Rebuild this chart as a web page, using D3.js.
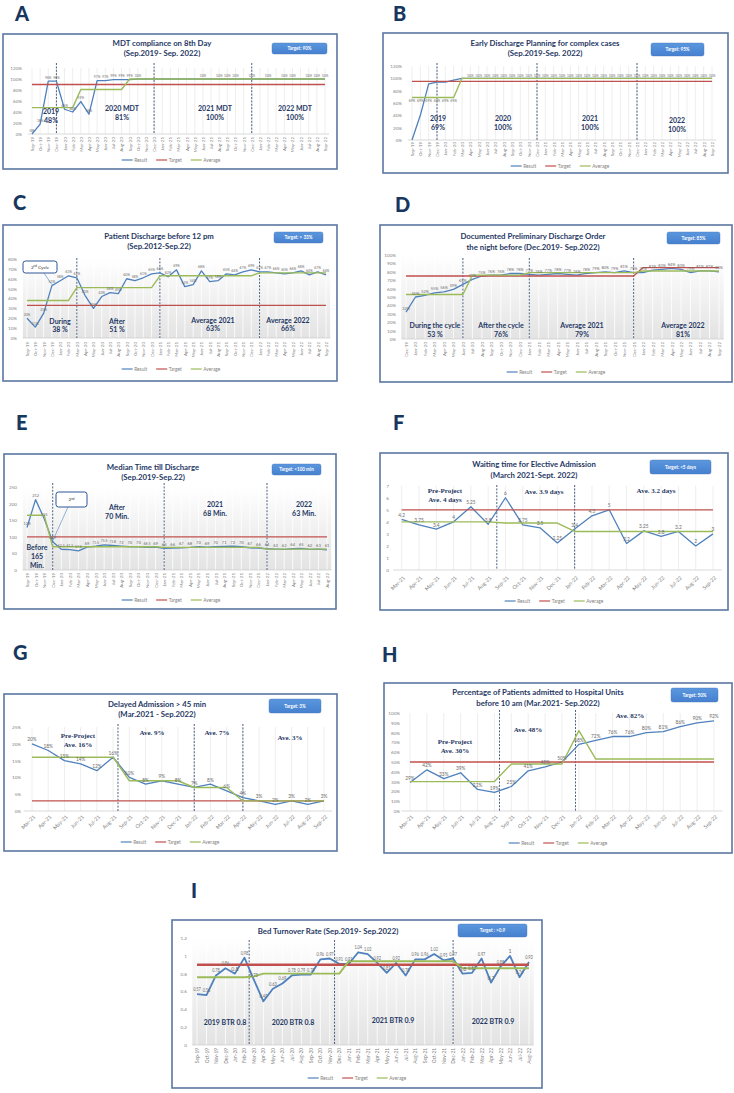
<!DOCTYPE html>
<html><head><meta charset="utf-8">
<script src="https://cdn.jsdelivr.net/npm/d3@7"></script>
<style>
body{margin:0;background:#fff;}
svg{display:block;font-family:Lato,"Open Sans",sans-serif;}
</style></head><body>
<svg id="c" width="734" height="1093"></svg>
<script>
// ---------- DATA ----------
const MONTHS = ["Sep-19","Oct-19","Nov-19","Dec-19","Jan-20","Feb-20","Mar-20","Apr-20","May-20","Jun-20","Jul-20","Aug-20","Sep-20","Oct-20","Nov-20","Dec-20","Jan-21","Feb-21","Mar-21","Apr-21","May-21","Jun-21","Jul-21","Aug-21","Sep-21","Oct-21","Nov-21","Dec-21","Jan-22","Feb-22","Mar-22","Apr-22","May-22","Jun-22","Jul-22","Aug-22","Sep-22"];
const catsA = MONTHS, catsB = MONTHS, catsC = MONTHS;
const catsD = MONTHS.slice(3);
const catsE = MONTHS.slice(0,36), catsI = MONTHS.slice(0,36);
const catsF = MONTHS.slice(18), catsG = MONTHS.slice(18), catsH = MONTHS.slice(18);

const ticksA = [0,20,40,60,80,100,120];
const ticksB = [0,20,40,60,80,100,120];
const ticksC = [0,10,20,30,40,50,60,70,80];
const ticksD = [0,10,20,30,40,50,60,70,80,90,100];
const ticksE = [0,50,100,150,200,250];
const ticksF = [0,1,2,3,4,5,6,7];
const ticksG = [0,5,10,15,20,25];
const ticksH = [0,10,20,30,40,50,60,70,80,90,100];
const ticksI = [0,0.2,0.4,0.6,0.8,1,1.2];

const resultA  = [0,18,96,96,45,40,59,36,97,97,99,99,99,100,100,100,100,100,100,100,100,100,100,100,100,100,100,100,100,100,100,100,100,100,100,100,100];
const targetA  = [90,90,90,90,90,90,90,90,90,90,90,90,90,90,90,90,90,90,90,90,90,90,90,90,90,90,90,90,90,90,90,90,90,90,90,90,90];
const averageA = [48,48,48,48,48,48,81,81,81,81,81,81,100,100,100,100,100,100,100,100,100,100,100,100,100,100,100,100,100,100,100,100,100,100,100,100,100];

const resultB  = [0,40,91,94,94,97,100,100,100,100,100,100,100,100,100,100,100,100,100,100,100,100,100,100,100,100,100,100,100,100,100,100,100,100,100,100,100];
const targetB  = [95,95,95,95,95,95,95,95,95,95,95,95,95,95,95,95,95,95,95,95,95,95,95,95,95,95,95,95,95,95,95,95,95,95,95,95,95];
const averageB = [69,69,69,69,69,69,100,100,100,100,100,100,100,100,100,100,100,100,100,100,100,100,100,100,100,100,100,100,100,100,100,100,100,100,100,100,100];

const resultC  = [20,11,25,53,58,63,61,43,30,42,46,45,60,58,61,65,66,62,69,52,54,68,57,58,65,64,67,69,67,67,66,65,66,68,64,67,64];
const targetC  = [33,33,33,33,33,33,33,33,33,33,33,33,33,33,33,33,33,33,33,33,33,33,33,33,33,33,33,33,33,33,33,33,33,33,33,33,33];
const averageC = [38,38,38,38,38,38,51,51,51,51,51,51,51,51,51,51,63,63,63,63,63,63,63,63,63,63,63,63,66,66,66,66,66,66,66,66,66];

const resultD  = [32,50,52,55,56,59,65,71,75,76,76,78,78,77,76,77,78,77,76,78,79,80,79,81,79,79,82,83,84,83,79,81,81,80];
const targetD  = [75,75,75,75,75,75,75,75,75,75,75,75,75,75,75,75,75,75,75,75,75,75,75,75,75,85,85,85,85,85,85,85,85,85];
const averageD = [53,53,53,53,53,53,53,76,76,76,76,76,76,79,79,79,79,79,79,79,79,79,79,79,79,81,81,81,81,81,81,81,81,81];

const resultE  = [128,212,155,84.9,62.5,61.5,57.6,69,71.5,75.5,73.8,72,70,70,68.5,69,65,66,67,68,70,69,70,71,72,70,67,66,64,63,62,64,65,62,63,61];
const targetE  = [100,100,100,100,100,100,100,100,100,100,100,100,100,100,100,100,100,100,100,100,100,100,100,100,100,100,100,100,100,100,100,100,100,100,100,100];
const averageE = [165,165,165,70,70,70,70,70,70,70,70,70,70,70,70,70,68,68,68,68,68,68,68,68,68,68,68,68,63,63,63,63,63,63,63,63];

const resultF  = [4.2,3.75,3.4,4,5.25,3.8,6,3.75,3.5,2.25,3.4,4.5,5,2.2,3.25,2.8,3.2,2,3];
const targetF  = [5,5,5,5,5,5,5,5,5,5,5,5,5,5,5,5,5,5,5];
const averageF = [4,4,4,4,4,4,3.9,3.9,3.9,3.9,3.2,3.2,3.2,3.2,3.2,3.2,3.2,3.2,3.2];

const resultG  = [20,18,15,14,12,16,10,8,9,8,7,8,6,4,3,2,3,2,3];
const targetG  = [3,3,3,3,3,3,3,3,3,3,3,3,3,3,3,3,3,3,3];
const averageG = [16,16,16,16,16,16,9,9,9,9,7,7,7,3,3,3,3,3,3];

const resultH  = [29,42,33,39,22,19,25,41,45,50,68,72,76,76,80,81,86,90,92];
const targetH  = [50,50,50,50,50,50,50,50,50,50,50,50,50,50,50,50,50,50,50];
const averageH = [30,30,30,30,30,30,48,48,48,48,82,53,53,53,53,53,53,53,53];

const resultI  = [0.57,0.56,0.78,0.86,0.8,0.98,0.73,0.49,0.63,0.69,0.78,0.79,0.79,0.96,0.97,0.91,0.91,1.04,1.02,0.92,0.81,0.92,0.78,0.96,0.96,1.02,0.95,0.97,0.8,0.81,0.97,0.7,0.88,1,0.76,0.93];
const targetI  = [0.9,0.9,0.9,0.9,0.9,0.9,0.9,0.9,0.9,0.9,0.9,0.9,0.9,0.9,0.9,0.9,0.9,0.9,0.9,0.9,0.9,0.9,0.9,0.9,0.9,0.9,0.9,0.9,0.9,0.9,0.9,0.9,0.9,0.9,0.9,0.9];
const averageI = [0.76,0.76,0.76,0.76,0.76,0.76,0.77,0.8,0.8,0.8,0.8,0.8,0.8,0.8,0.8,0.8,0.94,0.94,0.94,0.94,0.94,0.94,0.94,0.94,0.94,0.94,0.94,0.94,0.86,0.86,0.86,0.86,0.86,0.86,0.86,0.86];

const pct = d => d + "%";
const num = d => String(d);
const range = (a,b) => d3.range(a,b+1);

// ---------- CHART DEFINITIONS (text + layout) ----------
const charts = [
 { name:"A", cats:catsA, result:resultA, target:targetA, average:averageA, yTicks:ticksA, yFmt:pct, lFmt:pct,
   title:["MDT compliance on 8th Day","(Sep.2019- Sep. 2022)"], targetText:"Target: 90%",
   letter:[15,21], box:[3,34,337,169], titleX:162, titleY:[43,53], tbox:[272,43,327,54],
   xr:[32,325], yr:[134,68], yLabX:22, xLabY:137, rot:-90, xFs:4.5, lFs:3.8, legend:[171,160],
   dashed:[3,15,27], dashTop:63, grad:false,
   labels:[{s:"result", idx:range(0,13).concat([21,23,24,25,27,29,31,32,34,35,36]), dy:-2.5}],
   notes:[{t:["2019","48%"],x:51,y:112},{t:["2020 MDT","81%"],x:122,y:109},{t:["2021 MDT","100%"],x:215,y:109},{t:["2022 MDT","100%"],x:295,y:109}], nLH:8.3 },
 { name:"B", cats:catsB, result:resultB, target:targetB, average:averageB, yTicks:ticksB, yFmt:pct, lFmt:pct,
   title:["Early Discharge Planning for complex cases","(Sep.2019-Sep. 2022)"], targetText:"Target: 95%",
   letter:[393,21], box:[383,33,728,173], titleX:545, titleY:[43,53], tbox:[651,43,704,56],
   xr:[412,712], yr:[140,66], yLabX:402, xLabY:142, rot:-90, xFs:4.5, lFs:3.8, legend:[560,166],
   dashed:[3,15,27], dashTop:63, grad:false,
   labels:[{s:"average", idx:range(0,5), dy:5},{s:"result", idx:range(7,36), dy:-1.5}],
   notes:[{t:["2019","69%"],x:438,y:119},{t:["2020","100%"],x:503,y:119},{t:["2021","100%"],x:590,y:119},{t:["2022","100%"],x:677,y:121}], nLH:8.5 },
 { name:"C", cats:catsC, result:resultC, target:targetC, average:averageC, yTicks:ticksC, yFmt:pct, lFmt:pct,
   title:["Patient Discharge before 12 pm","(Sep.2012-Sep.22)"], targetText:"Target: > 33%",
   letter:[13,210], box:[3,225,337,381], titleX:159, titleY:[236,246], tbox:[274,232,323,243],
   xr:[27,326], yr:[338,259], yLabX:17, xLabY:342, rot:-90, xFs:4.5, lFs:4.4, legend:[171,369],
   dashed:[6,16,28], dashTop:258, grad:true,
   labels:[{s:"result", idx:range(0,36), dy:-2.5}],
   callout:{x0:23,y0:261,x1:57,y1:273,t:["2","nd"," Cycle"],lx:44,ly:273,idx:3},
   notes:[{t:["During","38 %"],x:60,y:322},{t:["After","51 %"],x:117,y:322},{t:["Average 2021","63%"],x:213,y:321},{t:["Average 2022","66%"],x:288,y:321}], nLH:8 },
 { name:"D", cats:catsD, result:resultD, target:targetD, average:averageD, yTicks:ticksD, yFmt:pct, lFmt:pct,
   title:["Documented Preliminary Discharge Order","the night before  (Dec.2019- Sep.2022)"], targetText:"Target: 85%",
   letter:[395,212], box:[380,225,732,382], titleX:533, titleY:[236,247], tbox:[667,232,720,244],
   xr:[406,719], yr:[339,255], yLabX:396, xLabY:342, rot:-90, xFs:4.5, lFs:4.2, legend:[556,372],
   dashed:[6,13,24], dashTop:258, grad:true,
   labels:[{s:"result", idx:range(0,33), dy:-2.5}],
   notes:[{t:["During the cycle","53 %"],x:435,y:326},{t:["After the cycle","76%"],x:501,y:326},{t:["Average 2021","79%"],x:582,y:326},{t:["Average 2022","81%"],x:683,y:326}], nLH:8.5 },
 { name:"E", cats:catsE, result:resultE, target:targetE, average:averageE, yTicks:ticksE, yFmt:num, lFmt:num,
   title:["Median Time till Discharge","(Sep.2019-Sep.22)"], targetText:"Target: <100 min",
   letter:[16,430], box:[4,454,336,609], titleX:153, titleY:[467,477], tbox:[272,464,321,475],
   xr:[27,327], yr:[570,487], yLabX:17, xLabY:573, rot:-90, xFs:4.5, lFs:4.1, legend:[171,600],
   dashed:[3,16,28], dashTop:483, grad:true,
   labels:[{s:"result", idx:range(0,35), dy:-2.5}],
   callout:{x0:56,y0:492,x1:87,y1:507,t:["2","nd",""],lx:68,ly:507,idx:3},
   notes:[{t:["Before","165","Min."],x:37,y:548},{t:["After","70 Min."],x:117,y:508},{t:["2021","68 Min."],x:215,y:505},{t:["2022","63 Min."],x:304,y:505}], nLH:9 },
 { name:"F", cats:catsF, result:resultF, target:targetF, average:averageF, yTicks:ticksF, yFmt:num, lFmt:num,
   title:["Waiting time for Elective Admission","(March 2021-Sept. 2022)"], targetText:"Target: <5 days",
   letter:[393,430], box:[380,453,728,610], titleX:534, titleY:[464,475], tbox:[650,460,711,474],
   xr:[401.7,713], yr:[570,485.7], yLabX:389, xLabY:576, rot:-45, xFs:5.3, lFs:4.8, legend:[554,601],
   dashed:[5.5,10], dashTop:485, grad:false, serif:true,
   labels:[{s:"result", idx:range(0,18), dy:-2.5}],
   notes:[{t:["Pre-Project","Ave. 4 days"],x:445,y:491},{t:["Ave. 3.9 days"],x:544,y:492},{t:["Ave. 3.2 days"],x:656,y:491}], nLH:8.5 },
 { name:"G", cats:catsG, result:resultG, target:targetG, average:averageG, yTicks:ticksG, yFmt:pct, lFmt:pct,
   title:["Delayed Admission > 45 min","(Mar.2021 - Sep.2022)"], targetText:"Target: 3%",
   letter:[13,660], box:[4,694,337,851], titleX:157, titleY:[704,714], tbox:[269,699,321,713],
   xr:[32,324], yr:[811,727], yLabX:21, xLabY:815, rot:-45, xFs:5.3, lFs:4.8, legend:[170,842],
   dashed:[5.3,10,13], dashTop:724, grad:false, serif:true,
   labels:[{s:"result", idx:range(0,18), dy:-2.5}],
   notes:[{t:["Pre-Project","Ave. 16%"],x:78,y:736},{t:["Ave. 9%"],x:152,y:733},{t:["Ave. 7%"],x:217,y:733},{t:["Ave. 3%"],x:290,y:738}], nLH:9 },
 { name:"H", cats:catsH, result:resultH, target:targetH, average:averageH, yTicks:ticksH, yFmt:pct, lFmt:pct,
   title:["Percentage of Patients admitted to Hospital Units","before 10 am (Mar.2021- Sep.2022)"], targetText:"Target: 50%",
   letter:[382,662], box:[384,683,732,853], titleX:538, titleY:[692,703], tbox:[671,688,718,702],
   xr:[410,714], yr:[811,713], yLabX:400, xLabY:815, rot:-45, xFs:5.3, lFs:4.8, legend:[558,843],
   dashed:[5.3,9.8], dashTop:710, grad:false, serif:true,
   labels:[{s:"result", idx:range(0,18), dy:-2.5}],
   notes:[{t:["Pre-Project","Ave. 30%"],x:455,y:742},{t:["Ave. 48%"],x:528,y:730},{t:["Ave. 82%"],x:630,y:716}], nLH:9 },
 { name:"I", cats:catsI, result:resultI, target:targetI, average:averageI, yTicks:ticksI, yFmt:num, lFmt:num,
   title:["Bed Turnover Rate (Sep.2019- Sep.2022)"], targetText:"Target : >0.9",
   letter:[191,898], box:[172,920,542,1088], titleX:328, titleY:[931], tbox:[458,924,527,937],
   xr:[197,529], yr:[1045,938], yLabX:187, xLabY:1048, rot:-90, xFs:4.8, lFs:5.2, legend:[357,1078],
   dashed:[5.5,14.5,27], dashTop:940, grad:true, thick:true,
   labels:[{s:"result", idx:range(0,35), dy:-3}],
   notes:[{t:["2019 BTR 0.8"],x:225,y:1023},{t:["2020 BTR 0.8"],x:293,y:1023},{t:["2021 BTR 0.9"],x:393,y:1021},{t:["2022 BTR 0.9"],x:493,y:1022}], nLH:8 }
];

// ---------- DRAW ----------
const svg = d3.select("#c");
const defs = svg.append("defs");
const gr = defs.append("linearGradient").attr("id","pg").attr("x1",0).attr("y1",0).attr("x2",0).attr("y2",1);
gr.append("stop").attr("offset","0%").attr("stop-color","#ffffff");
gr.append("stop").attr("offset","100%").attr("stop-color","#e3e3e3");
const tg = defs.append("linearGradient").attr("id","tb").attr("x1",0).attr("y1",0).attr("x2",0).attr("y2",1);
tg.append("stop").attr("offset","0%").attr("stop-color","#5b97de");
tg.append("stop").attr("offset","100%").attr("stop-color","#4680cf");

const COL = {result:"#4f81bd", target:"#c0504d", average:"#9bbb59"};
const NAVY = "#1f3864";

function drawChart(c){
  const g = svg.append("g");
  g.append("text").attr("x",c.letter[0]).attr("y",c.letter[1]).text(c.name)
    .attr("font-size",20).attr("font-weight",900).attr("fill","#17375e");
  const [bx0,by0,bx1,by1] = c.box;
  g.append("rect").attr("x",bx0).attr("y",by0).attr("width",bx1-bx0).attr("height",by1-by0)
    .attr("fill","#fff").attr("stroke","#5a77a3").attr("stroke-width",1.6);

  const x = d3.scalePoint().domain(c.cats).range(c.xr);
  const st = x.step();
  const xi = i => c.xr[0] + i*st;
  const y = d3.scaleLinear().domain([c.yTicks[0], c.yTicks[c.yTicks.length-1]]).range(c.yr);
  const pl = c.xr[0]-st/2, pr = c.xr[1]+st/2;

  if (c.grad) g.append("rect").attr("x",pl).attr("y",c.yr[1]).attr("width",pr-pl).attr("height",c.yr[0]-c.yr[1]).attr("fill","url(#pg)");
  g.append("g").selectAll("line").data(c.cats).join("line")
    .attr("x1",d=>x(d)).attr("x2",d=>x(d)).attr("y1",c.yr[1]).attr("y2",c.yr[0])
    .attr("stroke",c.grad?"#ffffff":"#dcdcdc").attr("stroke-width",c.grad?0.8:0.5);
  g.append("line").attr("x1",pl).attr("x2",pr).attr("y1",c.yr[0]).attr("y2",c.yr[0]).attr("stroke","#c8c8c8").attr("stroke-width",0.7);

  // y axis
  const ya = g.append("g").attr("transform",`translate(${c.yLabX},0)`)
    .call(d3.axisLeft(y).tickValues(c.yTicks).tickFormat(c.yFmt).tickSize(0).tickPadding(0));
  ya.select(".domain").remove();
  ya.attr("font-family","Lato").attr("font-size",4.6);
  ya.selectAll("text").attr("fill","#7f7f7f");

  // x axis
  const xa = g.append("g").attr("transform",`translate(0,${c.xLabY})`)
    .call(d3.axisBottom(x).tickSize(0).tickPadding(0));
  xa.select(".domain").remove();
  xa.attr("font-family","Lato").attr("font-size",c.xFs);
  xa.selectAll("text").attr("fill","#7f7f7f").attr("y",0).attr("x",0).attr("dy","0.32em")
    .attr("text-anchor","end").attr("transform", c.rot===-45 ? "translate(2,1) rotate(-45)" : "rotate(-90)");

  // dashed separators
  g.append("g").selectAll("line").data(c.dashed).join("line")
    .attr("x1",d=>xi(d)).attr("x2",d=>xi(d)).attr("y1",c.dashTop).attr("y2",c.yr[0])
    .attr("stroke",NAVY).attr("stroke-width",0.8).attr("stroke-dasharray","2,1.4");

  // series
  const line = d3.line().x((d,i)=>xi(i)).y(d=>y(d));
  const w = c.thick ? {result:1.8,target:2.4,average:1.9} : {result:1.3,target:1.3,average:1.4};
  ["result","target","average"].forEach(s=>{
    g.append("path").datum(c[s]).attr("d",line).attr("fill","none")
      .attr("stroke",COL[s]).attr("stroke-width",w[s]).attr("stroke-linejoin","round");
  });

  // data labels (squeezed to fit one category step, as the crowded Excel labels)
  const maxW = st*0.8;
  c.labels.forEach(L=>{
    const arr = c[L.s];
    const sel = g.append("g").selectAll("text").data(L.idx).join("text")
      .attr("x",i=>xi(i)+(L.dx||0)).attr("y",i=>y(arr[i])+L.dy)
      .attr("text-anchor","middle").attr("font-size",c.lFs).attr("fill","#6b6b6b")
      .text(i=>c.lFmt(arr[i]));
    sel.each(function(){
      const wdt = this.getComputedTextLength();
      if (wdt > maxW) d3.select(this).attr("textLength",maxW).attr("lengthAdjust","spacingAndGlyphs");
    });
  });

  // callout
  if (c.callout){
    const co = c.callout;
    g.append("line").attr("x1",co.lx).attr("y1",co.ly).attr("x2",xi(co.idx)).attr("y2",y(c.result[co.idx])-1)
      .attr("stroke","#4f81bd").attr("stroke-width",0.6);
    g.append("rect").attr("x",co.x0).attr("y",co.y0).attr("width",co.x1-co.x0).attr("height",co.y1-co.y0)
      .attr("rx",2.5).attr("fill","#fff").attr("stroke","#2f5597").attr("stroke-width",1);
    const t = g.append("text").attr("x",(co.x0+co.x1)/2).attr("y",(co.y0+co.y1)/2).attr("dy","0.35em")
      .attr("text-anchor","middle").attr("font-size",4.6).attr("fill","#333");
    t.append("tspan").text(co.t[0]);
    t.append("tspan").attr("font-size",3).attr("dy",-1.5).text(co.t[1]);
    if (co.t[2]) t.append("tspan").attr("dy",1.5).text(co.t[2]);
  }

  // notes
  c.notes.forEach(n=>{
    const t = g.append("text").attr("text-anchor","middle").attr("font-weight","bold").attr("fill",NAVY)
      .attr("font-size",7).attr("font-family", c.serif ? "'Liberation Serif',serif" : "Lato");
    n.t.forEach((s,k)=> t.append("tspan").attr("x",n.x).attr("y",n.y + k*c.nLH).attr("dy","0.35em").text(s));
  });

  // title
  c.title.forEach((s,k)=> g.append("text").attr("x",c.titleX).attr("y",c.titleY[k]).attr("dy","0.35em")
    .attr("text-anchor","middle").attr("font-size",7.8).attr("font-weight","bold").attr("fill",NAVY).text(s));

  // target box
  const [tx0,ty0,tx1,ty1] = c.tbox;
  g.append("rect").attr("x",tx0).attr("y",ty0).attr("width",tx1-tx0).attr("height",ty1-ty0).attr("rx",2)
    .attr("fill","url(#tb)").attr("stroke","#4373b8").attr("stroke-width",0.4);
  g.append("text").attr("x",(tx0+tx1)/2).attr("y",(ty0+ty1)/2).attr("dy","0.35em").attr("text-anchor","middle")
    .attr("font-size",4.6).attr("font-weight","bold").attr("fill","#fff").text(c.targetText);

  // legend
  const lg = g.append("g");
  let cx = 0;
  [["Result","result"],["Target","target"],["Average","average"]].forEach(([t,s])=>{
    lg.append("line").attr("x1",cx).attr("x2",cx+11).attr("y1",0).attr("y2",0).attr("stroke",COL[s]).attr("stroke-width",1.2);
    const tt = lg.append("text").attr("x",cx+12.5).attr("y",0).attr("dy","0.35em").attr("font-size",4.8).attr("fill","#7f7f7f").text(t);
    cx += 12.5 + tt.node().getComputedTextLength() + 9;
  });
  lg.attr("transform",`translate(${c.legend[0]-(cx-9)/2},${c.legend[1]})`);
}
charts.forEach(drawChart);
</script>
</body></html>
